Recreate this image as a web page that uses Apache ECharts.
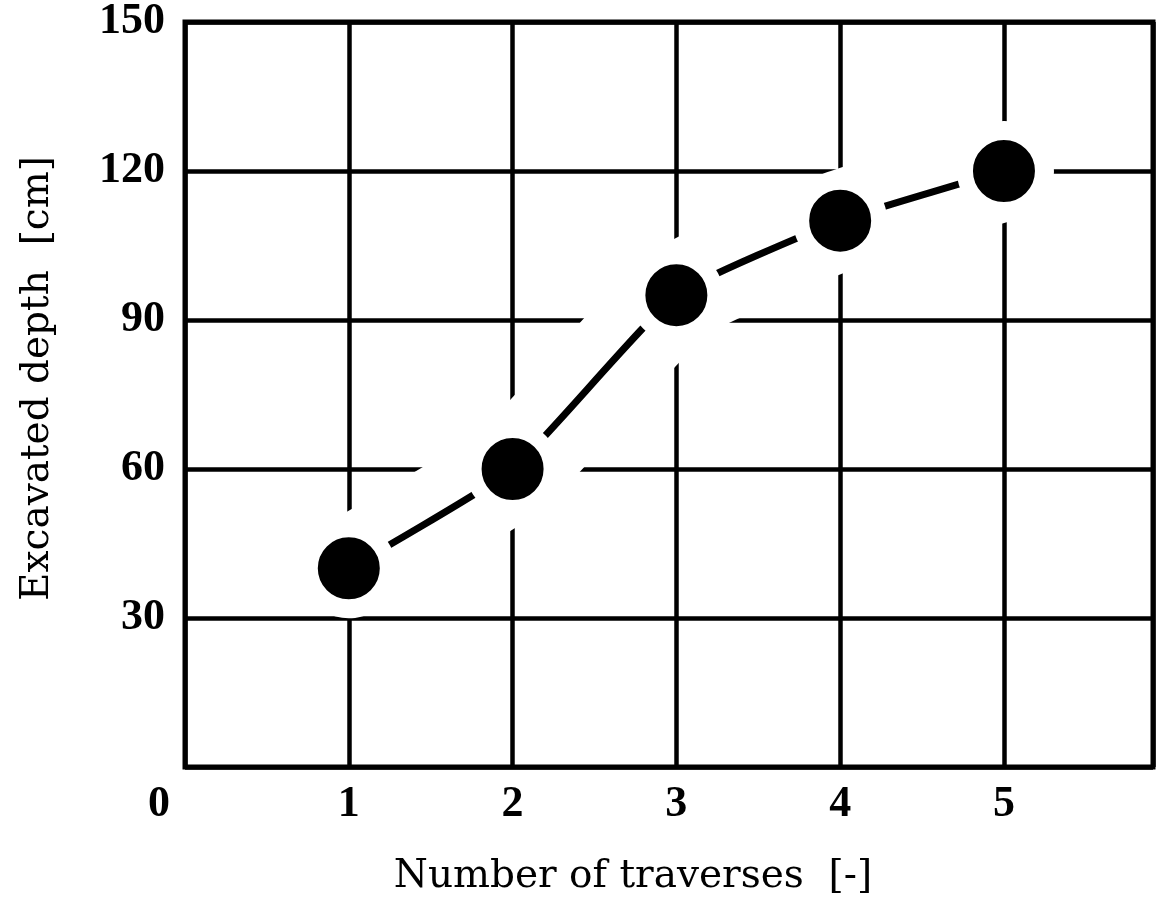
<!DOCTYPE html>
<html>
<head>
<meta charset="utf-8">
<script src="https://cdn.jsdelivr.net/npm/echarts@6/dist/echarts.min.js"></script>
<style>
  html, body { margin: 0; padding: 0; background: #fff; }
  #chart { width: 1158px; height: 905px; }
</style>
</head>
<body>
<div id="chart"></div>
<script>
var traverses = [1, 2, 3, 4, 5];
var depth = [40, 60, 95, 110, 120];
var xTicks = [0, 1, 2, 3, 4, 5];
var yTicks = [30, 60, 90, 120, 150];

var points = traverses.map(function (t, i) { return [t, depth[i]]; });

var chart = echarts.init(document.getElementById('chart'));
var tickFont = 'Liberation Serif';
var nameFont = 'DejaVu Serif';

var option = {
    animation: false,
    grid: {
        left: 185, right: 5, top: 21, bottom: 138,
        show: true, borderColor: '#000', borderWidth: 5
    },
    xAxis: {
        type: 'value',
        min: 0, max: 5.91, interval: 1,
        name: 'Number of traverses  [-]',
        nameLocation: 'middle',
        nameGap: 90,
        nameTextStyle: {
            fontFamily: nameFont, fontSize: 39, color: '#000',
            padding: [0, 72, 0, 0]
        },
        axisLine: { show: false },
        axisTick: { show: false },
        splitLine: { show: true, lineStyle: { color: '#000', width: 4.5 } },
        axisLabel: {
            margin: 16,
            fontFamily: tickFont, fontWeight: 'bold', fontSize: 44, color: '#000',
            formatter: function (v) {
                if (xTicks.indexOf(v) < 0) return '';
                return v === 0 ? '{o|0}' : String(v);
            },
            rich: {
                o: {
                    fontFamily: tickFont, fontWeight: 'bold', fontSize: 44, color: '#000',
                    padding: [0, 52, 0, 0]
                }
            }
        }
    },
    yAxis: {
        type: 'value',
        min: 0, max: 150, interval: 30,
        name: 'Excavated depth  [cm]',
        nameLocation: 'middle',
        nameGap: 128,
        nameTextStyle: {
            fontFamily: nameFont, fontSize: 39, color: '#000',
            padding: [0, 0, 0, 32]
        },
        axisLine: { show: false },
        axisTick: { show: false },
        splitLine: { show: true, lineStyle: { color: '#000', width: 4.5 } },
        axisLabel: {
            margin: 20,
            fontFamily: tickFont, fontWeight: 'bold', fontSize: 44, color: '#000',
            formatter: function (v) {
                return yTicks.indexOf(v) < 0 ? '' : String(v);
            }
        }
    },
    series: [
        {
            // white band that breaks the grid lines around the curve
            type: 'line',
            data: points,
            smooth: 0.15,
            symbol: 'none',
            silent: true,
            z: 1,
            lineStyle: { color: '#fff', width: 100, cap: 'round', join: 'round' }
        },
        {
            type: 'line',
            data: points,
            smooth: 0.15,
            symbol: 'circle',
            symbolSize: 78,
            silent: true,
            z: 3,
            lineStyle: { color: '#000', width: 7, cap: 'round' },
            itemStyle: { color: '#000', borderColor: '#fff', borderWidth: 16 }
        }
    ]
};
chart.setOption(option);
</script>
</body>
</html>
